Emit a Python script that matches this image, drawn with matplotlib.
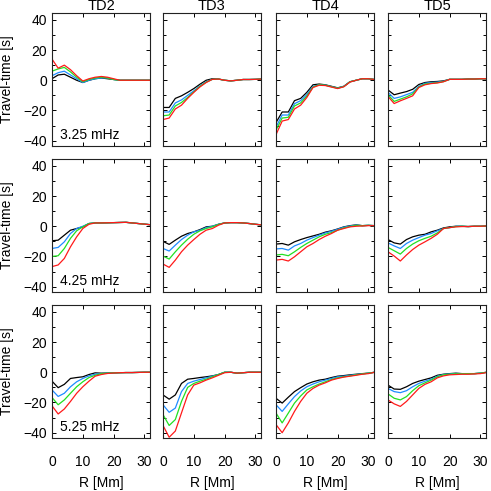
import matplotlib
matplotlib.use('Agg')
import matplotlib.pyplot as plt
from matplotlib.ticker import MultipleLocator

plt.rcParams['font.family'] = ['Liberation Sans', 'DejaVu Sans']

#---------------- Data ----------------#
R = [0, 2, 4, 6, 8, 10, 12, 14, 16, 18, 20, 22, 24, 26, 28, 30, 32]
distances = ['TD2', 'TD3', 'TD4', 'TD5']
freqs = ['3.25 mHz', '4.25 mHz', '5.25 mHz']
colors = ['black', '#1e8cff', '#22e022', '#ff1a1a']

# each panel: black, blue, green, red
td2_325 = [[1, 3.5, 4, 2, 0, -1.5, 0, 1, 1.5, 1, 0.5, 0, 0, 0, 0, 0, 0],
           [3, 5, 6, 3.5, 1, -1.5, 0, 1, 1.5, 1.5, 0.5, 0, 0, 0, 0, 0, 0],
           [6, 7.5, 8.5, 5.5, 2, -1, 0.5, 1.5, 2, 1.5, 0.5, 0, 0, 0, 0, 0, 0],
           [14, 8, 10, 7, 3, -0.5, 1, 2, 2.5, 2, 1, 0, 0, 0, 0, 0, 0]]
td3_325 = [[-18, -18, -12, -10.3, -8, -5.5, -2.6, 0, 1, 0.8, 0, -0.4, 0, 0.5, 0.5, 0.6, 0.8],
           [-21, -21, -15, -13, -10, -7, -3.7, -1, 0.6, 0.8, 0, -0.4, 0, 0.5, 0.5, 0.6, 0.8],
           [-23.5, -23, -17, -14.7, -11.4, -7.7, -4, -1.3, 0.6, 0.8, 0, -0.4, 0, 0.5, 0.5, 0.6, 0.8],
           [-26, -25, -19, -16.5, -12, -8, -4.4, -1.5, 0.6, 0.8, 0, -0.4, 0, 0.5, 0.5, 0.6, 0.8]]
td4_325 = [[-28, -21, -21, -13.5, -12, -8, -3, -2.5, -3, -4, -5, -4, -1, 0, 1, 1, 0.5],
           [-31, -23, -23, -15.5, -13.5, -9.5, -4, -3, -3.2, -4.2, -5.2, -4, -1, 0, 1, 1, 0.5],
           [-33, -25, -24.5, -17, -15, -10.5, -4.5, -3, -3.3, -4.3, -5.3, -4.2, -1, 0, 1, 1, 0.5],
           [-36, -27, -26, -19, -16.5, -11.4, -4.8, -3.3, -3.5, -4.5, -5.5, -4.3, -1.2, 0, 1, 1, 0.5]]
td5_325 = [[-6.4, -9.6, -8.5, -7.5, -6, -2.8, -1.5, -1, -0.8, -0.4, 0.6, 0.6, 0.6, 0.8, 0.8, 1, 1],
           [-8, -12, -11, -9.5, -8, -4, -2, -1.5, -1.2, -0.7, 0.6, 0.6, 0.6, 0.8, 0.8, 1, 1],
           [-9.5, -14, -12.5, -11, -9, -4.5, -2.5, -2, -1.6, -0.9, 0.6, 0.6, 0.6, 0.8, 0.8, 1, 1],
           [-10.7, -15.4, -13.6, -12, -10.3, -4.8, -3, -2.2, -1.8, -1, 0.6, 0.6, 0.6, 0.8, 0.8, 1, 1]]

td2_425 = [[-9.6, -9.2, -5.9, -2.6, -1.5, -0.4, 1.8, 2.2, 2.2, 2.3, 2.4, 2.5, 2.6, 2.2, 1.8, 1.4, 1],
           [-14.7, -14, -10.3, -4.8, -1.5, 0, 1.8, 2.2, 2.2, 2.3, 2.4, 2.5, 2.6, 2.2, 1.8, 1.4, 1],
           [-20, -19.5, -14.7, -8, -3, -0.4, 1.8, 2.2, 2.2, 2.3, 2.4, 2.5, 2.6, 2.2, 1.8, 1.4, 1],
           [-26.7, -25.6, -21.3, -13.6, -7, -1.5, 1.3, 2.2, 2.2, 2.3, 2.4, 2.5, 2.6, 2.2, 1.8, 1.4, 1]]
td3_425 = [[-10, -12, -9.2, -6.6, -4.8, -3.7, -2.2, -0.4, 0, 1.3, 2.2, 2.4, 2.4, 2.2, 1.8, 1.3, 0.9],
           [-14.7, -16.4, -12.5, -8.8, -5.9, -3.7, -2.6, -0.9, 0, 1.3, 2.2, 2.4, 2.4, 2.2, 1.8, 1.3, 0.9],
           [-19.7, -21.7, -16.9, -12.5, -8.6, -5.3, -3, -1.5, -0.4, 1.2, 2.2, 2.4, 2.4, 2.2, 1.8, 1.3, 0.9],
           [-25, -27.2, -22.4, -16.9, -12.5, -8.8, -5.3, -2.6, -1.5, 0.7, 2.2, 2.4, 2.4, 2.2, 1.8, 1.3, 0.9]]
td4_425 = [[-11.8, -11.4, -12.5, -10.3, -8.8, -7.5, -6.4, -5.3, -3.9, -3, -1.8, -0.4, 0.4, 0.9, 0.4, 0.6, 0.4],
           [-15, -14.7, -15.8, -13, -11.4, -9.2, -7.5, -5.9, -4.4, -3.3, -2, -0.6, 0.2, 0.8, 0.4, 0.6, 0.4],
           [-19, -18.6, -19.5, -16.9, -14, -11.4, -9.2, -7, -5.3, -4.2, -2.6, -1.1, -0.2, 0.6, 0.4, 0.6, 0.4],
           [-22.4, -21.9, -23, -20.2, -16.9, -13.6, -11.4, -8.8, -6.6, -4.8, -2.6, -1.5, -0.4, 0, 0.2, 0.4, 0.4]]
td5_425 = [[-8.8, -11, -11.8, -8.8, -7, -5.9, -5.3, -3.7, -2.6, -1.1, -0.4, 0, 0, -0.2, 0, 0, 0.2],
           [-11, -13, -14.7, -11.4, -9.2, -7.5, -5.9, -4.8, -3, -1.5, -0.9, 0, 0, -0.2, 0, 0, 0.2],
           [-14, -16.2, -18.4, -14.7, -11.8, -9.6, -8, -6.6, -4.4, -1.5, -0.9, -0.2, 0, -0.2, 0, 0, 0.2],
           [-16.9, -19.7, -23, -19, -15.4, -12.5, -10.3, -8, -5.3, -1.5, -0.9, -0.4, -0.2, -0.2, 0, 0, 0.2]]

td2_525 = [[-5.9, -10.2, -8, -4.1, -3.5, -3, -1.5, -0.4, -0.6, -0.5, -0.4, -0.3, -0.2, -0.2, -0.1, 0, 0],
           [-11.7, -16, -13.9, -9.6, -6.3, -4.1, -2.4, -1.3, -0.8, -0.6, -0.4, -0.3, -0.2, -0.2, -0.1, 0, 0],
           [-16.7, -21.5, -18.3, -13.9, -9.6, -6.3, -3.5, -2, -0.9, -0.6, -0.4, -0.3, -0.2, -0.2, -0.1, 0, 0],
           [-22.2, -27.6, -24.3, -19.3, -13.9, -9.6, -5.9, -2.6, -1.5, -0.8, -0.5, -0.3, -0.2, -0.2, -0.1, 0, 0]]
td3_525 = [[-15, -17.8, -15, -7.4, -4.6, -4.1, -3.5, -3, -2.4, -1.5, 0, 0, -0.6, -0.3, 0, 0, 0],
           [-21.5, -26.5, -23.7, -12.8, -7.4, -5.9, -4.8, -3.7, -2.6, -1.5, 0, 0, -0.6, -0.3, 0, 0, 0],
           [-28, -35.2, -31.3, -19.3, -10, -7.4, -5.9, -4.6, -3, -1.5, 0, 0, -0.6, -0.3, 0, 0, 0],
           [-35.2, -43, -38.9, -26.9, -15, -8.5, -7, -5.2, -3.7, -2, -0.3, 0, -0.6, -0.3, 0, 0, 0]]
td4_525 = [[-17.2, -20.4, -16.5, -12.8, -10.2, -7.8, -6.3, -5.2, -4.6, -3.5, -2.6, -2.2, -1.7, -1.3, -0.9, -0.6, 0],
           [-21.5, -25.9, -20.9, -16.1, -12.4, -9.6, -7.8, -6.3, -5.2, -4.1, -3, -2.6, -2, -1.5, -1.1, -0.6, 0],
           [-27, -33.5, -27, -20.4, -15.7, -11.7, -9.6, -7.8, -6.3, -4.8, -3.7, -3, -2.4, -1.7, -1.1, -0.6, 0],
           [-34.6, -40, -33.5, -25.9, -19.3, -13.9, -10.7, -8.5, -7, -5.2, -4.1, -3.2, -2.6, -2, -1.3, -0.9, 0]]
td5_525 = [[-8.5, -11.1, -11.3, -9.6, -7.4, -5.9, -4.8, -3.7, -2, -1.3, -0.9, -0.6, -0.9, -0.9, -0.9, -0.6, 0],
           [-10.7, -12.8, -13.5, -12.2, -9.6, -7.4, -5.9, -4.6, -2.6, -1.5, -1.1, -0.8, -0.9, -0.9, -0.9, -0.6, 0],
           [-14.3, -17.2, -18.3, -16.1, -12.2, -8.9, -7, -5.2, -3, -1.7, -1.3, -1, -1, -0.9, -0.9, -0.6, 0],
           [-18.3, -20.9, -22.6, -19.3, -15, -10.7, -8, -6.3, -3.7, -2.4, -1.7, -1.5, -1.3, -1.3, -1.1, -0.9, -0.2]]

panels = [[td2_325, td3_325, td4_325, td5_325],
          [td2_425, td3_425, td4_425, td5_425],
          [td2_525, td3_525, td4_525, td5_525]]

#---------------- Plot ----------------#
W = 491.0
col_left = [52, 163, 276, 388]
row_top = [13, 159, 305]
pw, ph = 98, 133

fig = plt.figure(figsize=(4.91, 4.91), dpi=100)

for i in range(3):
    for j in range(4):
        ax = fig.add_axes([col_left[j] / W, 1 - (row_top[i] + ph) / W, pw / W, ph / W])
        for k in range(4):
            ax.plot(R, panels[i][j][k], color=colors[k], lw=0.9)
        ax.set_xlim(0, 31.8)
        ax.set_ylim(-43.5, 44.5)
        ax.xaxis.set_major_locator(MultipleLocator(10))
        ax.yaxis.set_major_locator(MultipleLocator(20))
        ax.yaxis.set_minor_locator(MultipleLocator(10))
        ax.tick_params(which='both', direction='in', top=True, right=True,
                       labelsize=10, width=0.7)
        ax.tick_params(which='major', length=3)
        ax.tick_params(which='minor', length=2)
        for s in ax.spines.values():
            s.set_linewidth(0.8)
            s.set_color('#222222')
        if i == 0:
            ax.set_title(distances[j], fontsize=10.5, pad=2)
        if j == 0:
            ax.set_ylabel('Travel-time [s]', fontsize=10, labelpad=7)
            ax.text(0.08, 0.05, freqs[i], transform=ax.transAxes, fontsize=10)
        else:
            ax.set_yticklabels([])
        if i == 2:
            ax.set_xlabel('R [Mm]', fontsize=10, labelpad=5)
            ax.tick_params(axis='x', pad=12)
        else:
            ax.set_xticklabels([])

plt.savefig('out.png', dpi=100)
